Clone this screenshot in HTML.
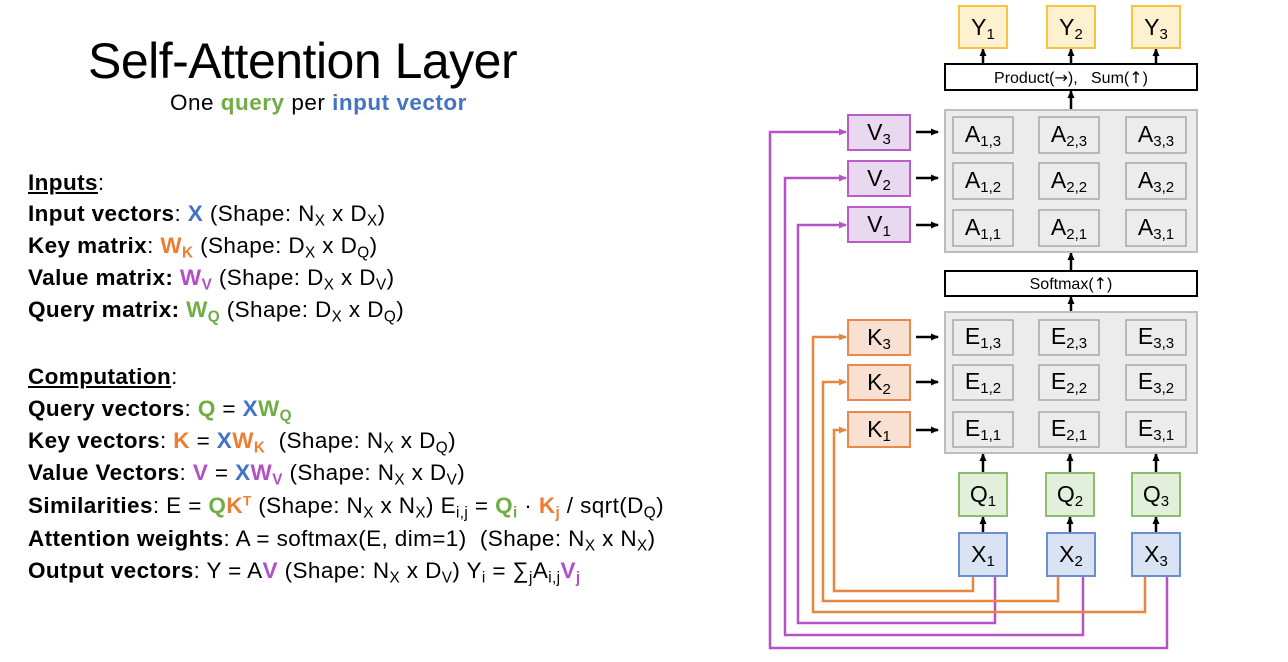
<!DOCTYPE html>
<html><head><meta charset="utf-8"><style>
body{margin:0;width:1288px;height:662px;background:#fff;overflow:hidden;position:relative;font-family:"Liberation Sans",sans-serif;color:#000}
.t{position:absolute;white-space:nowrap}
.l{position:absolute;left:28px;font-size:22.5px;white-space:nowrap;letter-spacing:0.4px;line-height:26px}
sub{font-size:0.68em;vertical-align:-0.3em;line-height:0}
sup{font-size:0.6em;vertical-align:0.55em;line-height:0}
.g{color:#70ad47;font-weight:bold}.b{color:#4472c4;font-weight:bold}.o{color:#ed7d31;font-weight:bold}.p{color:#b04fc6;font-weight:bold}
</style></head><body>
<div class="t" style="left:88px;top:32px;font-size:50px;letter-spacing:-0.5px">Self-Attention Layer</div>
<div class="t" style="left:170px;top:90px;font-size:22.5px;letter-spacing:0.5px">One <span class="g">query</span> per <span class="b">input vector</span></div>

<div class="l" style="top:170px"><b><u>Inputs</u></b>:</div>
<div class="l" style="top:201px"><b>Input vectors</b>: <span class="b">X</span> (Shape: N<sub>X</sub> x D<sub>X</sub>)</div>
<div class="l" style="top:233px"><b>Key matrix</b>: <span class="o">W<sub>K</sub></span> (Shape: D<sub>X</sub> x D<sub>Q</sub>)</div>
<div class="l" style="top:265px"><b>Value matrix: </b><span class="p">W<sub>V</sub></span> (Shape: D<sub>X</sub> x D<sub>V</sub>)</div>
<div class="l" style="top:297px"><b>Query matrix: </b><span class="g">W<sub>Q</sub></span> (Shape: D<sub>X</sub> x D<sub>Q</sub>)</div>

<div class="l" style="top:364px"><b><u>Computation</u></b>:</div>
<div class="l" style="top:396px"><b>Query vectors</b>: <span class="g">Q</span> = <span class="b">X</span><span class="g">W<sub>Q</sub></span></div>
<div class="l" style="top:428px"><b>Key vectors</b>: <span class="o">K</span> = <span class="b">X</span><span class="o">W<sub>K</sub></span>&nbsp; (Shape: N<sub>X</sub> x D<sub>Q</sub>)</div>
<div class="l" style="top:460px"><b>Value Vectors</b>: <span class="p">V</span> = <span class="b">X</span><span class="p">W<sub>V</sub></span> (Shape: N<sub>X</sub> x D<sub>V</sub>)</div>
<div class="l" style="top:493px"><b>Similarities</b>: E = <span class="g">Q</span><span class="o">K<sup>T</sup></span> (Shape: N<sub>X</sub> x N<sub>X</sub>) E<sub>i,j</sub> = <span class="g">Q<sub>i</sub></span> · <span class="o">K<sub>j</sub></span> / sqrt(D<sub>Q</sub>)</div>
<div class="l" style="top:526px"><b>Attention weights</b>: A = softmax(E, dim=1)&nbsp; (Shape: N<sub>X</sub> x N<sub>X</sub>)</div>
<div class="l" style="top:558px"><b>Output vectors</b>: Y = A<span class="p">V</span> (Shape: N<sub>X</sub> x D<sub>V</sub>) Y<sub>i</sub> = ∑<sub>j</sub>A<sub>i,j</sub><span class="p">V<sub>j</sub></span></div>

<svg width="1288" height="662" style="position:absolute;left:0;top:0" font-family="Liberation Sans, sans-serif">
<defs>
<marker id="ak" markerWidth="8" markerHeight="8" refX="7" refY="4" orient="auto" markerUnits="userSpaceOnUse"><path d="M0,0.5 L8,4 L0,7.5z" fill="#000"/></marker>
<marker id="ap" markerWidth="8" markerHeight="8" refX="7" refY="4" orient="auto" markerUnits="userSpaceOnUse"><path d="M0,0.5 L8,4 L0,7.5z" fill="#b553c6"/></marker>
<marker id="ao" markerWidth="8" markerHeight="8" refX="7" refY="4" orient="auto" markerUnits="userSpaceOnUse"><path d="M0,0.5 L8,4 L0,7.5z" fill="#e8853e"/></marker>
</defs>
<g fill="none" stroke="#b553c6" stroke-width="2.5">
<path d="M1167,576 V648 H770 V132 H846" marker-end="url(#ap)"/>
<path d="M1083,576 V635 H785 V178 H846" marker-end="url(#ap)"/>
<path d="M995,576 V623 H798 V225 H846" marker-end="url(#ap)"/>
</g>
<g fill="none" stroke="#e8853e" stroke-width="2.5">
<path d="M1145,576 V612 H813 V337 H846" marker-end="url(#ao)"/>
<path d="M1058,576 V601 H823 V382 H846" marker-end="url(#ao)"/>
<path d="M973,576 V591 H834 V430 H846" marker-end="url(#ao)"/>
</g>
<g stroke="#000" stroke-width="2.5" marker-end="url(#ak)">
<line x1="983" y1="63" x2="983" y2="49"/><line x1="1071" y1="63" x2="1071" y2="49"/><line x1="1156" y1="63" x2="1156" y2="49"/>
<line x1="1071" y1="110" x2="1071" y2="91"/>
<line x1="1071" y1="270" x2="1071" y2="253"/>
<line x1="1071" y1="312" x2="1071" y2="297"/>
<line x1="916" y1="132" x2="938" y2="132"/><line x1="916" y1="178" x2="938" y2="178"/><line x1="916" y1="225" x2="938" y2="225"/>
<line x1="916" y1="337" x2="938" y2="337"/><line x1="916" y1="382" x2="938" y2="382"/><line x1="916" y1="430" x2="938" y2="430"/>
<line x1="983" y1="473" x2="983" y2="454"/><line x1="1070" y1="473" x2="1070" y2="454"/><line x1="1156" y1="473" x2="1156" y2="454"/>
<line x1="983" y1="533" x2="983" y2="517"/><line x1="1070" y1="533" x2="1070" y2="517"/><line x1="1156" y1="533" x2="1156" y2="517"/>
</g>
<g fill="#fdf1d0" stroke="#f5c542" stroke-width="2">
<rect x="959" y="6" width="48" height="42"/><rect x="1047" y="6" width="48" height="42"/><rect x="1132" y="6" width="48" height="42"/>
</g>
<rect x="945" y="64" width="252" height="26" fill="#fff" stroke="#000" stroke-width="2"/>
<text x="1071" y="83" font-size="16" text-anchor="middle">Product(<tspan font-family="DejaVu Sans">→</tspan>),&#160;&#160; Sum(<tspan font-family="DejaVu Sans">↑</tspan>)</text>
<rect x="945" y="271" width="252" height="25" fill="#fff" stroke="#000" stroke-width="2"/>
<text x="1071" y="289" font-size="16" text-anchor="middle">Softmax(<tspan font-family="DejaVu Sans">↑</tspan>)</text>
<g fill="#ececec" stroke="#bdbdbd" stroke-width="2">
<rect x="945" y="110" width="252" height="142"/><rect x="945" y="312" width="252" height="141"/>
</g>
<g fill="#ececec" stroke="#a6a6a6" stroke-width="1.5">
<rect x="953" y="117" width="60" height="36"/><rect x="1039" y="117" width="60" height="36"/><rect x="1126" y="117" width="60" height="36"/>
<rect x="953" y="163" width="60" height="36"/><rect x="1039" y="163" width="60" height="36"/><rect x="1126" y="163" width="60" height="36"/>
<rect x="953" y="210" width="60" height="36"/><rect x="1039" y="210" width="60" height="36"/><rect x="1126" y="210" width="60" height="36"/>
<rect x="953" y="320" width="60" height="35"/><rect x="1039" y="320" width="60" height="35"/><rect x="1126" y="320" width="60" height="35"/>
<rect x="953" y="365" width="60" height="35"/><rect x="1039" y="365" width="60" height="35"/><rect x="1126" y="365" width="60" height="35"/>
<rect x="953" y="412" width="60" height="35"/><rect x="1039" y="412" width="60" height="35"/><rect x="1126" y="412" width="60" height="35"/>
</g>
<g fill="#e8d9f0" stroke="#b95ec9" stroke-width="2">
<rect x="848" y="115" width="62" height="35"/><rect x="848" y="161" width="62" height="35"/><rect x="848" y="207" width="62" height="35"/>
</g>
<g fill="#f8e1d2" stroke="#e8894a" stroke-width="2">
<rect x="848" y="320" width="62" height="35"/><rect x="848" y="365" width="62" height="35"/><rect x="848" y="412" width="62" height="35"/>
</g>
<g fill="#e2efda" stroke="#8fbd6a" stroke-width="2">
<rect x="959" y="473" width="48" height="43"/><rect x="1046" y="473" width="48" height="43"/><rect x="1132" y="473" width="48" height="43"/>
</g>
<g fill="#dae3f3" stroke="#6c8ed0" stroke-width="2">
<rect x="959" y="533" width="48" height="43"/><rect x="1047" y="533" width="48" height="43"/><rect x="1132" y="533" width="48" height="43"/>
</g>
<g font-size="23" text-anchor="middle">
<text x="983" y="35">Y<tspan font-size="15" dy="4">1</tspan></text>
<text x="1071" y="35">Y<tspan font-size="15" dy="4">2</tspan></text>
<text x="1156" y="35">Y<tspan font-size="15" dy="4">3</tspan></text>
<text x="879" y="140">V<tspan font-size="15" dy="4">3</tspan></text>
<text x="879" y="186">V<tspan font-size="15" dy="4">2</tspan></text>
<text x="879" y="232">V<tspan font-size="15" dy="4">1</tspan></text>
<text x="879" y="345">K<tspan font-size="15" dy="4">3</tspan></text>
<text x="879" y="390">K<tspan font-size="15" dy="4">2</tspan></text>
<text x="879" y="437">K<tspan font-size="15" dy="4">1</tspan></text>
<text x="983" y="502">Q<tspan font-size="15" dy="4">1</tspan></text>
<text x="1070" y="502">Q<tspan font-size="15" dy="4">2</tspan></text>
<text x="1156" y="502">Q<tspan font-size="15" dy="4">3</tspan></text>
<text x="983" y="562">X<tspan font-size="15" dy="4">1</tspan></text>
<text x="1071" y="562">X<tspan font-size="15" dy="4">2</tspan></text>
<text x="1156" y="562">X<tspan font-size="15" dy="4">3</tspan></text>
<text x="983" y="142">A<tspan font-size="15" dy="4">1,3</tspan></text><text x="1069" y="142">A<tspan font-size="15" dy="4">2,3</tspan></text><text x="1156" y="142">A<tspan font-size="15" dy="4">3,3</tspan></text>
<text x="983" y="188">A<tspan font-size="15" dy="4">1,2</tspan></text><text x="1069" y="188">A<tspan font-size="15" dy="4">2,2</tspan></text><text x="1156" y="188">A<tspan font-size="15" dy="4">3,2</tspan></text>
<text x="983" y="235">A<tspan font-size="15" dy="4">1,1</tspan></text><text x="1069" y="235">A<tspan font-size="15" dy="4">2,1</tspan></text><text x="1156" y="235">A<tspan font-size="15" dy="4">3,1</tspan></text>
<text x="983" y="344">E<tspan font-size="15" dy="4">1,3</tspan></text><text x="1069" y="344">E<tspan font-size="15" dy="4">2,3</tspan></text><text x="1156" y="344">E<tspan font-size="15" dy="4">3,3</tspan></text>
<text x="983" y="389">E<tspan font-size="15" dy="4">1,2</tspan></text><text x="1069" y="389">E<tspan font-size="15" dy="4">2,2</tspan></text><text x="1156" y="389">E<tspan font-size="15" dy="4">3,2</tspan></text>
<text x="983" y="436">E<tspan font-size="15" dy="4">1,1</tspan></text><text x="1069" y="436">E<tspan font-size="15" dy="4">2,1</tspan></text><text x="1156" y="436">E<tspan font-size="15" dy="4">3,1</tspan></text>
</g>
</svg>
</body></html>
